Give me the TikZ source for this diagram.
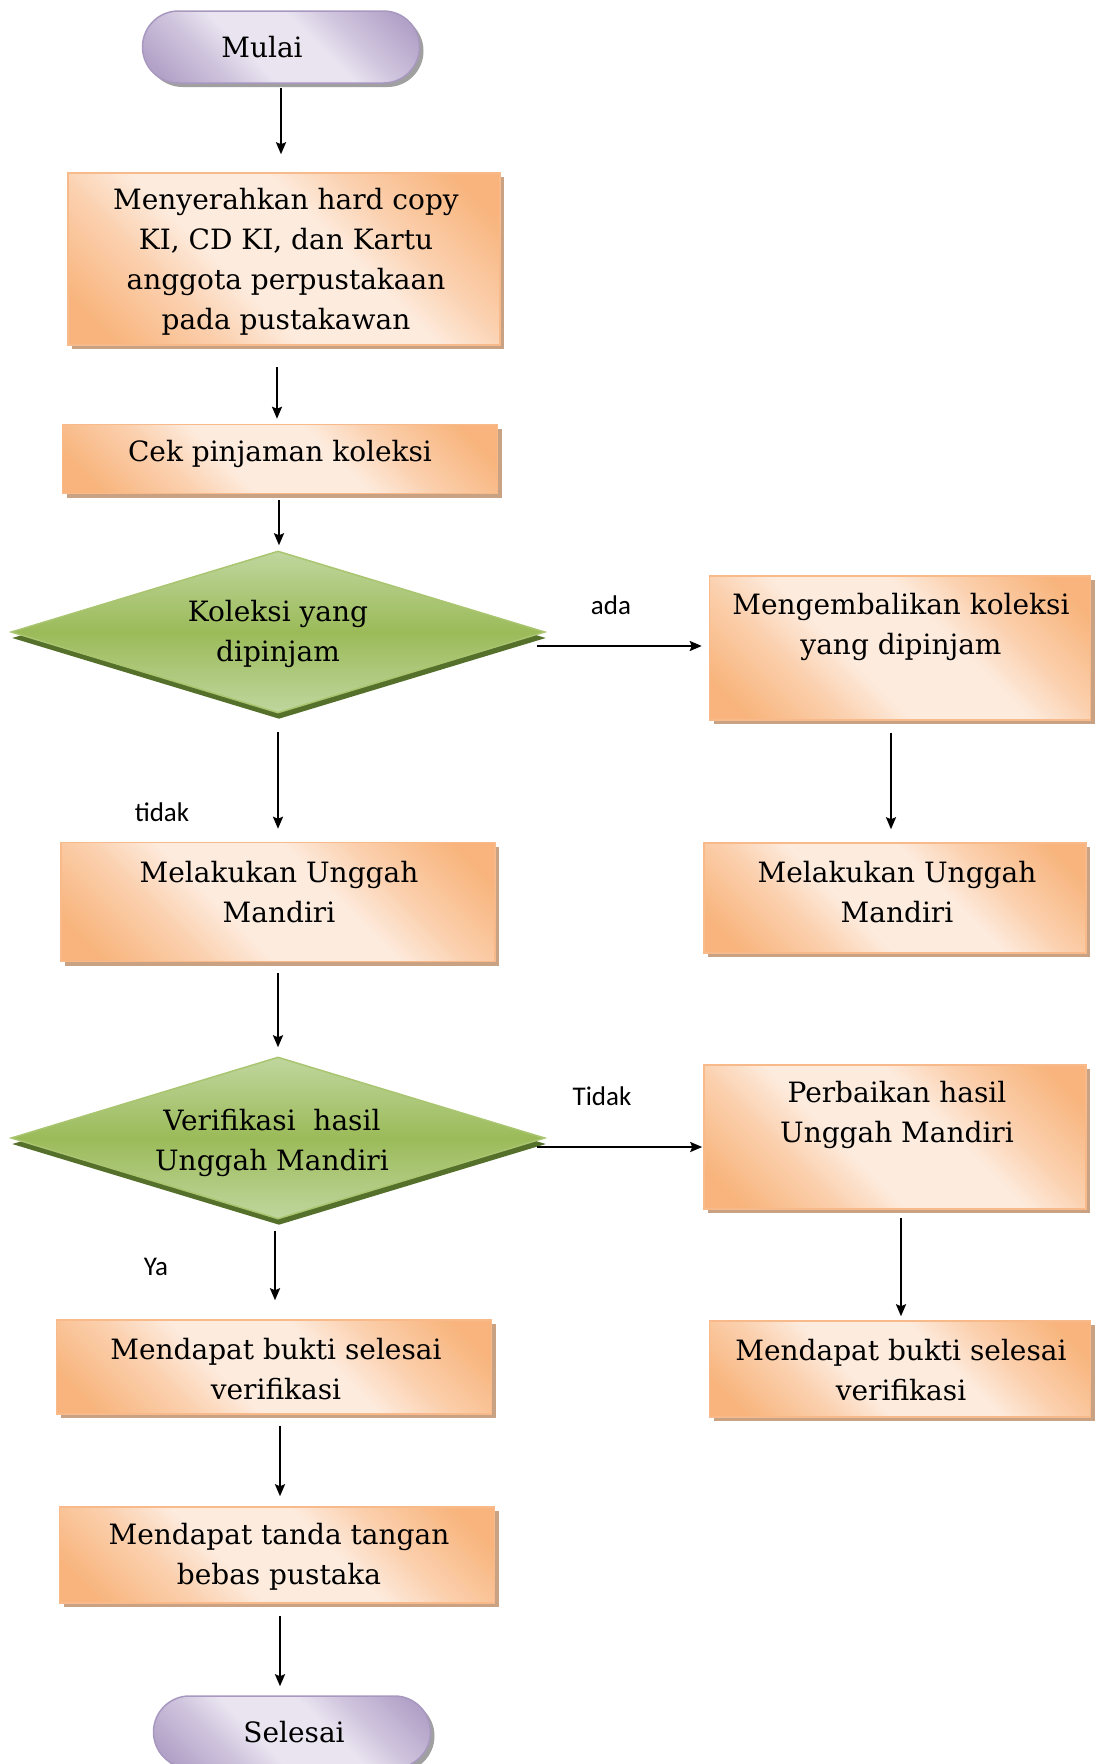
\documentclass[tikz,border=0pt]{standalone}
\usepackage{fontspec}
\setmainfont{DejaVu Serif}
\newfontfamily\lblfont{Carlito}
\usetikzlibrary{shapes.geometric,arrows.meta,shadows}
\definecolor{orD}{HTML}{F8B47C}
\definecolor{orM}{HTML}{FBD0AE}
\definecolor{orL}{HTML}{FDEBDD}
\definecolor{orB}{HTML}{F8BA8A}
\definecolor{orS}{HTML}{C9A283}
\definecolor{gD}{HTML}{9BBB59}
\definecolor{gL}{HTML}{C0D69E}
\definecolor{gB}{HTML}{A9C56F}
\definecolor{gS}{HTML}{55702A}
\definecolor{pD}{HTML}{B3A2C8}
\definecolor{pM}{HTML}{CFC4DD}
\definecolor{pL}{HTML}{E9E4F0}
\definecolor{pB}{HTML}{A898C0}
\definecolor{pS}{HTML}{A0A0A0}
\pgfdeclarehorizontalshading{peach}{100bp}{color(0bp)=(orD); color(20bp)=(orD); color(33bp)=(orM); color(42bp)=(orL); color(58bp)=(orL); color(67bp)=(orM); color(80bp)=(orD); color(100bp)=(orD)}
\pgfdeclarehorizontalshading{lilac}{100bp}{color(0bp)=(pD); color(20bp)=(pD); color(33bp)=(pM); color(42bp)=(pL); color(58bp)=(pL); color(67bp)=(pM); color(80bp)=(pD); color(100bp)=(pD)}
\begin{document}
\begin{tikzpicture}[x=1pt,y=-1pt,
  procbox/.style={rectangle, draw=orB, line width=1.5pt, shading=peach, shading angle=45, inner sep=0pt,
    drop shadow={shadow xshift=4pt, shadow yshift=-4pt, fill=orS, opacity=1}},
  decbox/.style={diamond, draw=gB, line width=1.5pt, top color=gL, bottom color=gL, middle color=gD, inner sep=0pt,
    drop shadow={shadow xshift=1pt, shadow yshift=-6pt, fill=gS, opacity=1}},
  termbox/.style={rectangle, rounded corners=36pt, draw=pB, line width=1.5pt, shading=lilac, shading angle=45, inner sep=0pt,
    minimum width=277pt, minimum height=72pt,
    drop shadow={shadow xshift=4pt, shadow yshift=-4pt, fill=pS, opacity=1}},
  txt/.style={align=center, font=\fontsize{28}{40}\selectfont, inner sep=0pt},
  lbl/.style={font=\lblfont\fontsize{27}{30}\selectfont, inner sep=0pt},
  arr/.style={-{Stealth[length=12pt,width=10pt,inset=2pt]}, line width=2pt}]
\useasboundingbox (0,0) rectangle (1105,1764);

% shapes
\node[termbox] (m) at (281,47) {};
\node[procbox, minimum width=432pt, minimum height=172pt] (b1) at (284,259) {};
\node[procbox, minimum width=435pt, minimum height=69pt] (b2) at (280,459) {};
\node[decbox, minimum width=534pt, minimum height=162pt] (d1) at (278,632) {};
\node[procbox, minimum width=381pt, minimum height=144pt] (b3) at (900,648) {};
\node[procbox, minimum width=382pt, minimum height=110pt] (b4) at (895,898) {};
\node[procbox, minimum width=434pt, minimum height=119pt] (b5) at (278,902) {};
\node[decbox, minimum width=534pt, minimum height=162pt] (d2) at (278,1138) {};
\node[procbox, minimum width=382pt, minimum height=144pt] (b6) at (895,1137) {};
\node[procbox, minimum width=381pt, minimum height=96pt] (b7) at (900,1369) {};
\node[procbox, minimum width=435pt, minimum height=94pt] (b8) at (274,1367) {};
\node[procbox, minimum width=435pt, minimum height=96pt] (b9) at (277,1555) {};
\node[termbox] (s) at (292,1732) {};

% texts
\node[txt] (tm) at (262,47) {Mulai};
\node[txt] (t1) at (286,262) {Menyerahkan hard copy\\KI, CD KI, dan Kartu\\anggota perpustakaan\\pada pustakawan};
\node[txt] (t2) at (280,454) {Cek pinjaman koleksi};
\node[txt] (td1) at (278,634) {Koleksi yang\\dipinjam};
\node[txt] (t3) at (901,627) {Mengembalikan koleksi\\yang dipinjam};
\node[txt] (t4) at (897,892) {Melakukan Unggah\\Mandiri};
\node[txt] (t5) at (279,892) {Melakukan Unggah\\Mandiri};
\node[txt] (td2) at (272,1143) {Verifikasi\ \ hasil\\Unggah Mandiri};
\node[txt] (t6) at (897,1115) {Perbaikan hasil\\Unggah Mandiri};
\node[txt] (t7) at (901,1370) {Mendapat bukti selesai\\verifikasi};
\node[txt] (t8) at (276,1369) {Mendapat bukti selesai\\verifikasi};
\node[txt] (t9) at (279,1557) {Mendapat tanda tangan\\bebas pustaka};
\node[txt] (ts) at (294,1732) {Selesai};

% labels
\node[lbl] (lada) at (611,605) {ada};
\node[lbl] (ltidak) at (162,812) {tidak};
\node[lbl] (lTidak) at (602,1096) {Tidak};
\node[lbl] (lya) at (156,1267) {Ya};

% arrows
\draw[arr, shorten <=4pt, shorten >=18pt] (m.south) -- (m.south |- b1.north);
\coordinate (c1) at ([xshift=-7pt]b1.south);
\draw[arr, shorten <=21pt, shorten >=5pt] (c1) -- (c1 |- b2.north);
\draw[arr, shorten <=6pt, shorten >=5pt] ([xshift=-1pt]b2.south) -- ([xshift=1pt]d1.north);
\draw[arr, shorten <=18pt, shorten >=13pt] (d1.south) -- (d1.south |- b5.north);
\coordinate (c3) at ([xshift=-9pt]b3.south);
\draw[arr, shorten <=12pt, shorten >=13pt] (c3) -- (c3 |- b4.north);
\draw[arr, shorten <=11pt, shorten >=9pt] (b5.south) -- (b5.south |- d2.north);
\coordinate (c6) at ([xshift=6pt]b6.south);
\draw[arr, shorten <=8pt, shorten >=4pt] (c6) -- (c6 |- b7.north);
\coordinate (cd2) at ([xshift=-3pt]d2.south);
\draw[arr, shorten <=11pt, shorten >=19pt] (cd2) -- (cd2 |- b8.north);
\coordinate (c8) at ([xshift=6pt]b8.south);
\draw[arr, shorten <=11pt, shorten >=10pt] (c8) -- (c8 |- b9.north);
\coordinate (c9) at ([xshift=3pt]b9.south);
\draw[arr, shorten <=12pt, shorten >=9pt] (c9) -- (c9 |- s.north);
\coordinate (e1) at ([xshift=-9pt,yshift=-14pt]d1.east);
\draw[arr, shorten >=7pt] (e1) -- (e1 -| b3.west);
\coordinate (e2) at ([xshift=-9pt,yshift=-9pt]d2.east);
\draw[arr, shorten >=1pt] (e2) -- (e2 -| b6.west);
\end{tikzpicture}
\end{document}
